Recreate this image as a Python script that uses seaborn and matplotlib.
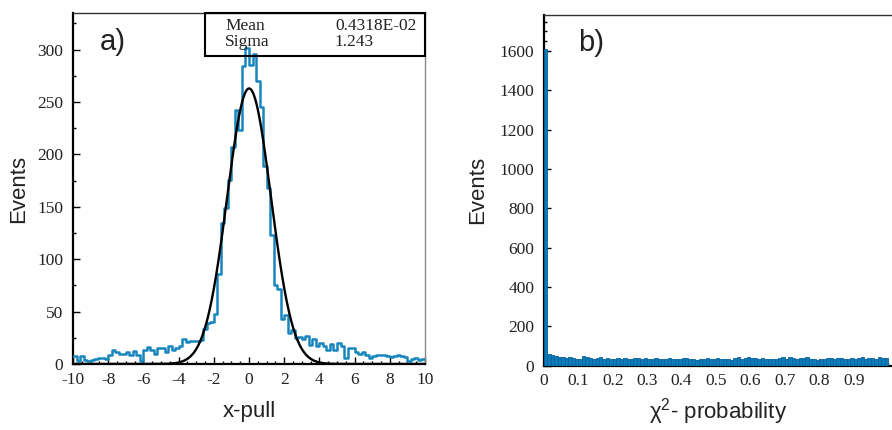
import numpy as np
import pandas as pd
import seaborn as sns
import matplotlib
matplotlib.use("Agg")
import matplotlib.pyplot as plt
from matplotlib.ticker import MultipleLocator
from matplotlib.patches import Rectangle

# ---------------- data ----------------
# a) x-pull histogram, 100 bins of width 0.2 from -10 to 10
pull_edges = [round(-10 + 0.2 * i, 4) for i in range(101)]
pull_counts = [
    8, 3, 8, 4, 3, 4, 5, 6, 6, 5,
    9, 13, 11, 10, 10, 11, 9, 12, 9, 3,
    13, 16, 13, 10, 15, 15, 11, 17, 13, 15,
    17, 24, 21, 22, 22, 22, 23, 33, 39, 40,
    48, 86, 135, 149, 176, 207, 242, 223, 284, 302,
    285, 296, 270, 245, 189, 168, 123, 75, 72, 43,
    47, 30, 32, 25, 26, 24, 27, 18, 24, 17,
    20, 17, 13, 19, 13, 20, 17, 6, 15, 15,
    11, 10, 11, 9, 6, 8, 9, 9, 9, 8,
    7, 8, 9, 8, 7, 3, 5, 6, 4, 5,
]
fit_mean = 0.4318e-02
fit_sigma = 1.243
fit_amp = 263.0

# b) chi2-probability histogram, 100 bins of width 0.01 from 0 to 1
prob_edges = [round(0.01 * i, 4) for i in range(101)]
prob_counts = [
    1610, 58, 52, 48, 45, 42, 38, 46, 40, 36,
    35, 50, 44, 38, 36, 40, 42, 35, 38, 32,
    36, 40, 35, 38, 36, 34, 38, 40, 35, 38,
    34, 36, 38, 32, 35, 34, 38, 33, 36, 35,
    40, 37, 34, 33, 30, 36, 34, 37, 35, 33,
    38, 34, 36, 33, 30, 38, 44, 36, 40, 46,
    38, 40, 36, 38, 35, 34, 33, 36, 38, 42,
    36, 44, 38, 35, 40, 38, 42, 36, 34, 30,
    36, 34, 40, 37, 35, 40, 38, 34, 36, 40,
    35, 38, 42, 36, 40, 38, 35, 42, 38, 40,
]

x_ticks_a = [-10, -8, -6, -4, -2, 0, 2, 4, 6, 8, 10]
x_labels_a = ["-10", "-8", "-6", "-4", "-2", "0", "2", "4", "6", "8", "10"]
y_ticks_a = [0, 50, 100, 150, 200, 250, 300]
x_ticks_b = [0, 0.1, 0.2, 0.3, 0.4, 0.5, 0.6, 0.7, 0.8, 0.9]
x_labels_b = ["0", "0.1", "0.2", "0.3", "0.4", "0.5", "0.6", "0.7", "0.8", "0.9"]
y_ticks_b = [0, 200, 400, 600, 800, 1000, 1200, 1400, 1600]

# ---------------- style ----------------
sns.set_theme(style="white")
plt.rcParams["font.family"] = ["Liberation Sans", "DejaVu Sans"]
plt.rcParams["mathtext.fontset"] = "custom"
plt.rcParams["mathtext.rm"] = "Liberation Sans"
plt.rcParams["mathtext.it"] = "Liberation Sans:italic"
plt.rcParams["axes.unicode_minus"] = False

BLUE = "#1886bd"
FILL = "#0a7bb5"
EDGE = "#0862a0"
SERIF = "Liberation Serif"
TXT = "#222222"

fig = plt.figure(figsize=(8.92, 4.30), dpi=100)
axA = fig.add_axes([73 / 892, 1 - 364 / 430, 352 / 892, 351 / 430])
axB = fig.add_axes([544 / 892, 1 - 365.7 / 430, 348 / 892, 351 / 430])

ca = [(pull_edges[i] + pull_edges[i + 1]) / 2 for i in range(100)]
cb = [(prob_edges[i] + prob_edges[i + 1]) / 2 for i in range(100)]
df_a = pd.DataFrame({"x": ca, "w": pull_counts})
df_b = pd.DataFrame({"x": cb, "w": prob_counts})

# ---- panel a ----
sns.histplot(data=df_a, x="x", weights="w", bins=pull_edges, element="step",
             fill=False, color=BLUE, linewidth=1.8, ax=axA, zorder=3)
xs = np.linspace(-10, 10, 800)
gauss = fit_amp * np.exp(-0.5 * ((xs - fit_mean) / fit_sigma) ** 2)
sns.lineplot(x=xs, y=gauss, color="black", linewidth=1.7, ax=axA, zorder=4)

axA.set_xlim(-10, 10)
axA.set_ylim(0, 335)
axA.set_xticks(x_ticks_a)
axA.set_xticklabels(x_labels_a)
axA.set_yticks(y_ticks_a)
axA.xaxis.set_minor_locator(MultipleLocator(0.5))
axA.yaxis.set_minor_locator(MultipleLocator(25))

# stats box
axA.add_patch(Rectangle((0.375, 0.8775), 0.625, 0.1225, transform=axA.transAxes,
                        fill=False, edgecolor="black", linewidth=1.5, zorder=5,
                        clip_on=False))
for yy, name, val in [(0.963, "Mean", "0.4318E-02"), (0.918, "Sigma", "1.243")]:
    axA.text(0.432, yy, name, transform=axA.transAxes, family=SERIF,
             fontsize=12.5, va="center", ha="left", zorder=6, color=TXT)
    axA.text(0.744, yy, val, transform=axA.transAxes, family=SERIF,
             fontsize=12.5, va="center", ha="left", zorder=6, color=TXT)
axA.text(0.077, 0.917, "a)", transform=axA.transAxes, fontsize=21,
         va="center", ha="left", color=TXT)

axA.set_xlabel("x-pull", fontsize=16, color=TXT)
axA.set_ylabel("Events", fontsize=16, color=TXT)
axA.xaxis.set_label_coords(0.5, -0.105)
axA.yaxis.set_label_coords(-0.125, 0.5)

# ---- panel b ----
sns.histplot(data=df_b, x="x", weights="w", bins=prob_edges, element="bars",
             fill=True, color=FILL, alpha=1.0, edgecolor=EDGE, linewidth=0.6,
             ax=axB, zorder=3)
axB.set_xlim(0, 1.0115)
axB.set_ylim(0, 1785)
axB.set_xticks(x_ticks_b)
axB.set_xticklabels(x_labels_b)
axB.set_yticks(y_ticks_b)
axB.xaxis.set_minor_locator(MultipleLocator(0.02))
axB.yaxis.set_minor_locator(MultipleLocator(50))
axB.text(0.098, 0.919, "b)", transform=axB.transAxes, fontsize=21,
         va="center", ha="left", color=TXT)
axB.set_xlabel("χ$^{2}$- probability", fontsize=16, color=TXT)
axB.set_ylabel("Events", fontsize=16, color=TXT)
axB.xaxis.set_label_coords(0.5, -0.088)
axB.yaxis.set_label_coords(-0.16, 0.5)

for ax in (axA, axB):
    ax.tick_params(which="major", direction="in", length=5, width=1,
                   color="black", labelsize=12.5, pad=7, labelcolor=TXT)
    ax.tick_params(which="minor", direction="in", length=2.5, width=1,
                   color="black")
    ax.tick_params(axis="x", which="major", pad=5.5)
    ax.tick_params(axis="y", which="both", left=True, right=False)
    ax.tick_params(axis="x", which="both", bottom=True, top=False)
    for lbl in ax.get_xticklabels() + ax.get_yticklabels():
        lbl.set_family(SERIF)
    ax.spines["left"].set_linewidth(1.6)
    ax.spines["left"].set_color("black")
    ax.spines["bottom"].set_linewidth(1.6)
    ax.spines["bottom"].set_color("black")
    ax.spines["top"].set_linewidth(1.0)
    ax.spines["top"].set_color("#333333")
    ax.grid(False)

axA.spines["right"].set_linewidth(1.0)
axA.spines["right"].set_color("#888888")
axB.spines["right"].set_visible(False)

fig.savefig("out.png", dpi=100)
